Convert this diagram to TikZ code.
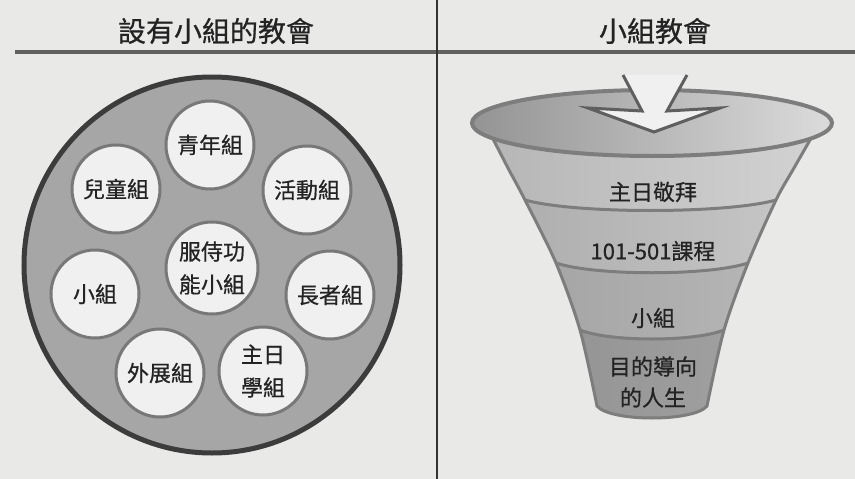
\documentclass[tikz,border=0pt]{standalone}
\usepackage{fontspec}
\setmainfont{Noto Sans CJK TC}[FakeBold=0.6]
\definecolor{bg}{RGB}{233,233,231}
\definecolor{txt}{RGB}{35,35,35}
\definecolor{bigfill}{RGB}{166,166,166}
\definecolor{bigline}{RGB}{60,60,60}
\definecolor{smallfill}{RGB}{240,240,240}
\definecolor{smallline}{RGB}{120,120,120}
\definecolor{rimline}{RGB}{125,125,125}
\definecolor{arrowline}{RGB}{95,95,95}
\newcommand{\funnelpath}{plot[smooth] coordinates {(490,133) (508,168) (525,200) (556,263) (580,330) (597,406)} .. controls (610,422) and (694,422) .. (707,406) -- plot[smooth] coordinates {(707,406) (724,330) (748,263) (776,200) (794,168) (814,133)} -- cycle}
\begin{document}
\begin{tikzpicture}[x=1pt,y=-1pt,
  hdr/.style={text=txt,font=\fontsize{28}{30}\selectfont,inner sep=0pt},
  smallc/.style={circle,draw=smallline,line width=3pt,fill=smallfill,minimum size=88pt,inner sep=0pt,text=txt,align=center,font=\fontsize{22}{33}\selectfont},
  ftext/.style={text=txt,inner sep=0pt,align=center,font=\fontsize{22}{31}\selectfont},
  fline/.style={draw=rimline,line width=3pt},
]
\useasboundingbox (0,0) rectangle (855,479);
\fill[bg] (0,0) rectangle (855,479);
% headers
\node[hdr] (h1) at (216,31) {設有小組的教會};
\node[hdr] (h2) at (655,31) {小組教會};
\coordinate (hl1) at (15,52);
\coordinate (hl2) at (855,52);
\draw[line width=3.5pt,draw=black!62] (hl1) -- (hl2);
\coordinate (vl1) at (437,0);
\coordinate (vl2) at (437,479);
\draw[line width=1.3pt,draw=black!80] (vl1) -- (vl2);
% left big circle
\draw[fill=bigfill,draw=bigline,line width=5pt] (212,265) circle[radius=188];
\node[smallc] (c1) at (210,145) {青年組};
\node[smallc] (c2) at (116,189) {兒童組};
\node[smallc] (c3) at (307,190) {活動組};
\node[smallc,minimum size=92pt] (c4) at (212,268) {服侍功\\能小組};
\node[smallc] (c5) at (95,294) {小組};
\node[smallc] (c6) at (330,295) {長者組};
\node[smallc] (c7) at (160,373) {外展組};
\node[smallc] (c8) at (263,371) {主日\\學組};
% funnel
\begin{scope}
\clip \funnelpath;
\shade[left color=black!30,middle color=black!8,right color=black!16] (450,90) rectangle (860,440);
\shade[left color=black!34,middle color=black!14,right color=black!20] (450,200) -- (525,200) .. controls (575,214) and (726,214) .. (776,200) -- (860,200) -- (860,440) -- (450,440) -- cycle;
\shade[left color=black!38,middle color=black!20,right color=black!26] (450,263) -- (556,263) .. controls (595,276) and (709,276) .. (748,263) -- (860,263) -- (860,440) -- (450,440) -- cycle;
\shade[left color=black!45,middle color=black!28,right color=black!34] (450,330) -- (580,330) .. controls (610,342) and (694,342) .. (724,330) -- (860,330) -- (860,440) -- (450,440) -- cycle;
\end{scope}
\draw[fline] (525,200) .. controls (575,214) and (726,214) .. (776,200);
\draw[fline] (556,263) .. controls (595,276) and (709,276) .. (748,263);
\draw[fline] (580,330) .. controls (610,342) and (694,342) .. (724,330);
\draw[fline] \funnelpath;
\shade[left color=black!42,right color=black!14] (652,123) ellipse[x radius=180,y radius=33];
\draw[draw=rimline,line width=4pt] (652,123) ellipse[x radius=180,y radius=33];
% arrow
\fill[white!94!black] (623,75) -- (642,111) -- (588,108) -- (654,132) -- (720,108) -- (667,111) -- (687,75) -- cycle;
\draw[draw=arrowline,line width=3pt,line join=miter] (623,75) -- (642,111) -- (588,108) -- (654,132) -- (720,108) -- (667,111) -- (687,75);
% funnel texts
\node[ftext] (t1) at (653,192) {主日敬拜};
\node[ftext] (t2) at (653,251) {101-501課程};
\node[ftext] (t3) at (653,318) {小組};
\node[ftext] (t4) at (653,382) {目的導向\\的人生};
\end{tikzpicture}
\end{document}
